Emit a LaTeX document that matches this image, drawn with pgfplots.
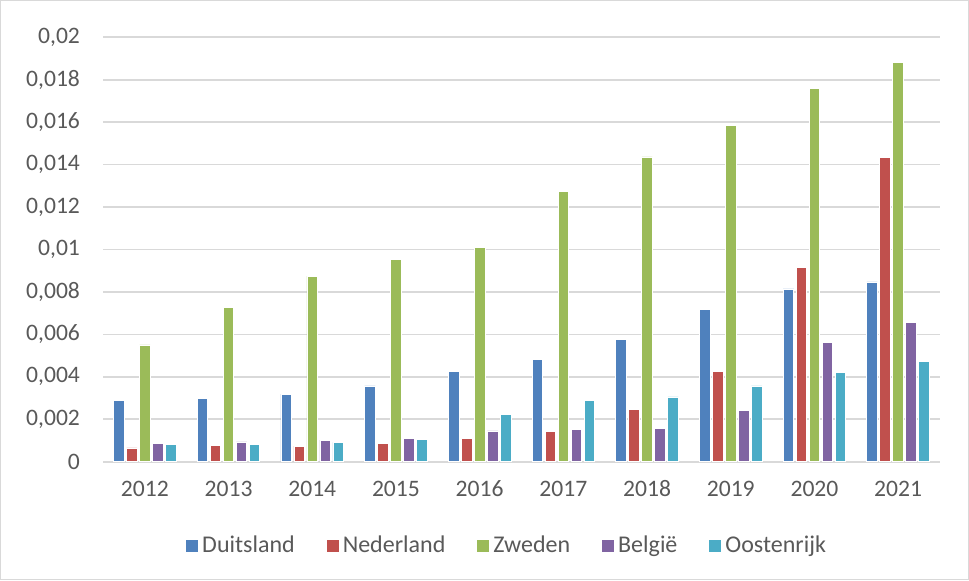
\documentclass[border=0pt]{standalone}
\usepackage{pgfplots}
\pgfplotsset{compat=1.18}
\usepackage{fontspec}
\setmainfont{Carlito}
\definecolor{cBlue}{HTML}{4F81BD}
\definecolor{cRed}{HTML}{C0504D}
\definecolor{cGreen}{HTML}{9BBB59}
\definecolor{cPurple}{HTML}{8064A2}
\definecolor{cCyan}{HTML}{4BACC6}
\definecolor{cGrid}{HTML}{D9D9D9}
\definecolor{cText}{HTML}{595959}
\begin{document}
\begin{tikzpicture}
\draw[cGrid, line width=0.6pt] (0.3pt,0.3pt) rectangle (484.2pt,289.7pt);
\begin{axis}[
  at={(51.5pt,59.15pt)}, anchor=south west,
  scale only axis, width=418.5pt, height=212.2pt,
  ybar=1.2pt, bar width=5.3pt,
  xmin=-0.5, xmax=9.5, ymin=0, ymax=0.02,
  xtick={0,...,9},
  xticklabels={2012,2013,2014,2015,2016,2017,2018,2019,2020,2021},
  ytick={0,0.002,0.004,0.006,0.008,0.01,0.012,0.014,0.016,0.018,0.02},
  yticklabels={0,{0,002},{0,004},{0,006},{0,008},{0,01},{0,012},{0,014},{0,016},{0,018},{0,02}},
  scaled y ticks=false,
  ymajorgrids, grid style={cGrid, line width=0.85pt},
  axis line style={draw=none},
  major tick length=0pt,
  tick label style={font=\fontsize{11.8}{13}\selectfont, text=cText},
  yticklabel style={xshift=-8pt},
  xticklabel style={yshift=-6pt},
  legend columns=5,
  legend style={draw=none, at={(0.484,-0.199)}, anchor=center,
    font=\fontsize{12}{13}\selectfont, text=cText,
    /tikz/every even column/.append style={column sep=14pt}},
  legend image code/.code={\fill[#1,draw=none] (-2pt,-3pt) rectangle (4pt,3pt);},
  every axis plot/.append style={draw=white, line width=0.4pt},
]
\addplot[fill=cBlue] coordinates {(0,0.00287) (1,0.00299) (2,0.00319) (3,0.00357) (4,0.00427) (5,0.00483) (6,0.00575) (7,0.00718) (8,0.00814) (9,0.00847)};
\addplot[fill=cRed] coordinates {(0,0.00065) (1,0.00075) (2,0.00073) (3,0.00087) (4,0.00111) (5,0.00141) (6,0.00247) (7,0.00426) (8,0.00916) (9,0.01434)};
\addplot[fill=cGreen] coordinates {(0,0.0055) (1,0.00726) (2,0.00875) (3,0.00954) (4,0.0101) (5,0.01273) (6,0.01436) (7,0.01585) (8,0.0176) (9,0.01882)};
\addplot[fill=cPurple] coordinates {(0,0.00085) (1,0.00093) (2,0.00102) (3,0.00108) (4,0.00145) (5,0.00153) (6,0.00156) (7,0.00242) (8,0.00564) (9,0.00657)};
\addplot[fill=cCyan] coordinates {(0,0.00082) (1,0.00082) (2,0.00091) (3,0.00105) (4,0.00221) (5,0.00289) (6,0.00305) (7,0.00357) (8,0.00421) (9,0.00473)};
\legend{Duitsland,Nederland,Zweden,België,Oostenrijk}
\end{axis}
\end{tikzpicture}
\end{document}
